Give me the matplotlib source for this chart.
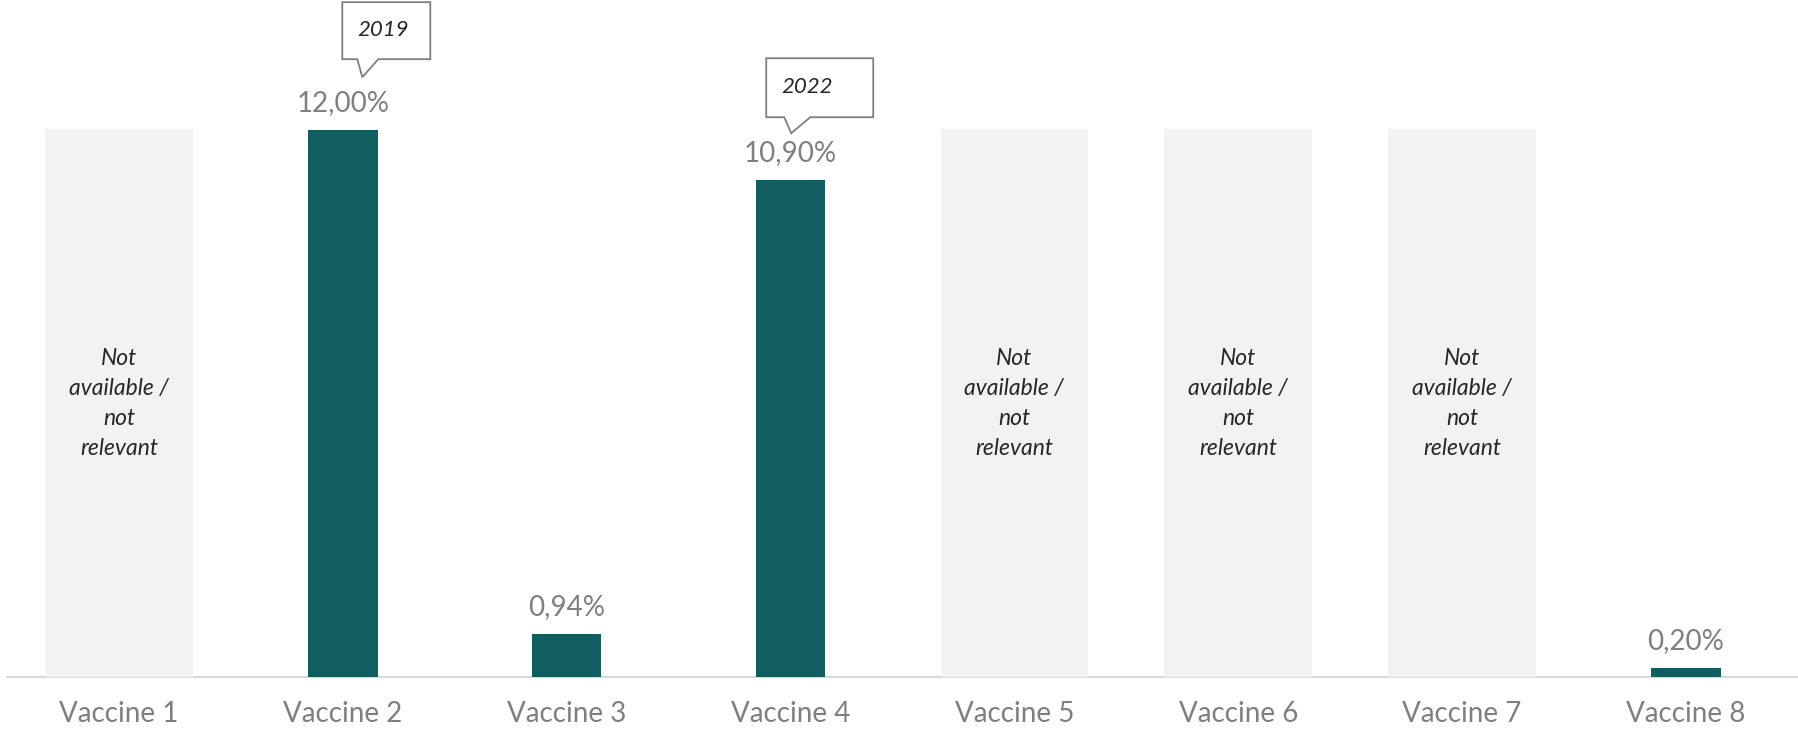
import matplotlib.pyplot as plt
import matplotlib.transforms as mtransforms
import numpy as np

# Data
categories = ["Vaccine 1", "Vaccine 2", "Vaccine 3", "Vaccine 4",
              "Vaccine 5", "Vaccine 6", "Vaccine 7", "Vaccine 8"]
values = [None, 12.00, 0.94, 10.90, None, None, None, 0.20]
na_height = 12.07
na_text = "Not\navailable /\nnot\nrelevant"

# callouts: (bar index, text, tip dx in bars, tip dy above value)
callouts = [(1, "2019", 0.087, 1.16), (3, "2022", 0.003, 1.03)]

TEAL = "#115d5f"
GREY_BG = "#f2f2f2"
LABEL = "#7f7f7f"
DARK = "#262626"


def fmt(v):
    return f"{v:.2f}".replace(".", ",") + "%"


def draw_callout(fig, ax, x, y, text, box, ptr, txt):
    # geometry in pixels relative to the tip, converted to inches
    l, r, b, t = box
    p0, p1 = ptr
    verts = np.array([(0, 0), (p1, b), (r, b), (r, t), (l, t), (l, b), (p0, b), (0, 0)]) / 100.0
    trans = fig.dpi_scale_trans + mtransforms.ScaledTranslation(x, y, ax.transData)
    poly = plt.Polygon(verts, closed=True, facecolor="white", edgecolor="#7f7f7f",
                       linewidth=1.3, transform=trans, clip_on=False, zorder=5)
    fig.add_artist(poly)
    tt = fig.dpi_scale_trans + mtransforms.ScaledTranslation(x, y, ax.transData)
    fig.text(txt[0] / 100.0, txt[1] / 100.0, text, transform=tt, ha="center", va="center",
             fontsize=16, style="italic", color=DARK, family="Lato", zorder=6)


def main():
    plt.rcParams["font.family"] = ["Lato", "DejaVu Sans"]

    fig = plt.figure(figsize=(17.98, 7.31), dpi=100)
    ax = fig.add_axes([7 / 1798, 54 / 731, 1791 / 1798, 677 / 731])

    x = np.arange(len(categories))
    ax.set_xlim(-0.5, len(categories) - 0.5)
    ax.set_ylim(0, 677 / 45.58)

    for i, v in enumerate(values):
        if v is None:
            ax.bar(i, na_height, width=0.66, bottom=-0.05, color=GREY_BG, zorder=1)
            ax.text(i, na_height / 2 - 0.04, na_text, ha="center", va="center", fontsize=16.5,
                    style="italic", color=DARK, linespacing=1.52, zorder=3)
        else:
            ax.bar(i, v, width=0.31, color=TEAL, zorder=2)
            ax.annotate(fmt(v), (i, v), xytext=(0, 19.5), textcoords="offset points",
                        ha="center", va="center", fontsize=20, color=LABEL)

    callout_shapes = {
        "2019": ((-20, 68, 18, 75), (-5, 16), (21, 47)),
        "2022": ((-25, 82, 16, 75), (-7, 19), (16, 46)),
    }
    for idx, text, dx, dy in callouts:
        box, ptr, txt = callout_shapes[text]
        draw_callout(fig, ax, idx + dx, values[idx] + dy, text, box, ptr, txt)

    ax.set_xticks(x)
    ax.set_xticklabels(categories, fontsize=20, color=LABEL)
    ax.tick_params(axis="x", length=0, pad=17)
    ax.set_yticks([])
    for side in ["top", "right", "left"]:
        ax.spines[side].set_visible(False)
    ax.spines["bottom"].set_color("#d9d9d9")
    ax.spines["bottom"].set_linewidth(1.5)
    ax.spines["bottom"].set_zorder(0)

    plt.savefig("out.png", dpi=100)


if __name__ == "__main__":
    main()
